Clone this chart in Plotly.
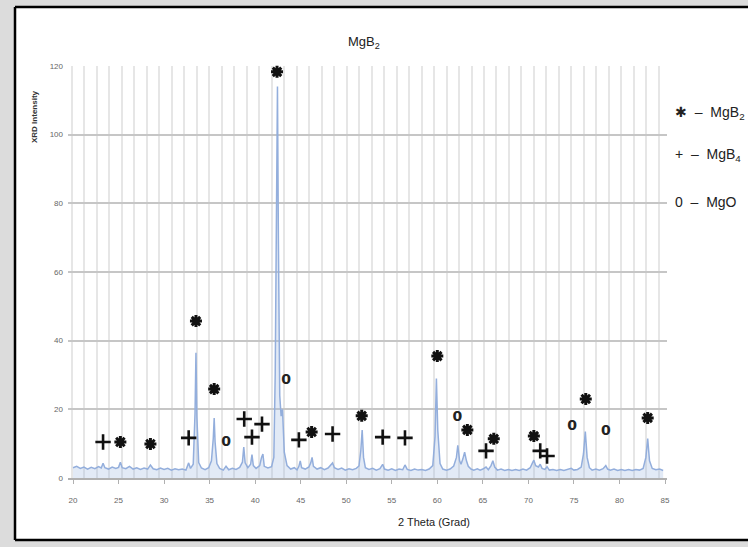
import plotly.graph_objects as go

# ---------------- data ----------------
two_theta = [
    20.0, 20.4, 20.8, 21.2, 21.6, 22.0, 22.4, 22.8, 23.1, 23.3,
    23.5, 23.9, 24.3, 24.7, 25.0, 25.2, 25.4, 25.8, 26.2, 26.6,
    27.0, 27.4, 27.8, 28.2, 28.5, 28.8, 29.2, 29.6, 30.0, 30.4,
    30.8, 31.2, 31.6, 32.0, 32.4, 32.7, 32.9, 33.2, 33.4, 33.5,
    33.6, 33.8, 34.1, 34.5, 34.9, 35.2, 35.4, 35.5, 35.6, 35.8,
    36.1, 36.5, 36.8, 37.1, 37.5, 37.9, 38.3, 38.6, 38.75, 38.9,
    39.2, 39.5, 39.65, 39.8, 40.1, 40.5, 40.7, 40.85, 41.0, 41.4,
    41.8, 42.05, 42.2, 42.35, 42.45, 42.55, 42.7, 42.85, 43.0, 43.2,
    43.5, 43.9, 44.3, 44.6, 44.8, 44.95, 45.1, 45.5, 45.9, 46.1, 46.25,
    46.4, 46.8, 47.2, 47.6, 48.0, 48.3, 48.5, 48.7, 49.1, 49.5,
    49.9, 50.3, 50.7, 51.1, 51.4, 51.6, 51.75, 51.9, 52.1, 52.5,
    52.9, 53.3, 53.7, 54.0, 54.2, 54.6, 55.0, 55.4, 55.8, 56.2,
    56.45, 56.7, 57.1, 57.5, 57.9, 58.3, 58.7, 59.1, 59.5, 59.75,
    59.9, 60.05, 60.3, 60.6, 61.0, 61.4, 61.8, 62.1, 62.25, 62.45,
    62.6, 62.8, 63.0, 63.2, 63.4, 63.7, 64.0, 64.4, 64.7, 65.0,
    65.35, 65.6, 65.9, 66.1, 66.3, 66.6, 67.0, 67.4, 67.8, 68.2,
    68.6, 69.0, 69.4, 69.8, 70.2, 70.45, 70.6, 70.8, 71.1, 71.3,
    71.5, 71.8, 72.05, 72.3, 72.7, 73.1, 73.5, 73.9, 74.3, 74.7,
    75.0, 75.4, 75.8, 76.05, 76.25, 76.45, 76.7, 77.0, 77.4, 77.8,
    78.2, 78.5, 78.7, 79.0, 79.4, 79.8, 80.2, 80.6, 81.0, 81.4,
    81.8, 82.2, 82.6, 82.9, 83.1, 83.3, 83.6, 84.0, 84.4, 84.8,
]
intensity = [
    3.0, 3.4, 2.8, 3.2, 2.6, 3.1, 2.7, 3.3, 2.9, 4.3,
    3.0, 2.6, 3.2, 2.8, 3.1, 4.6, 3.0, 2.7, 3.4, 2.6,
    3.0, 2.5, 2.9, 2.6, 3.8, 2.7, 2.4, 2.9, 2.5, 2.8,
    2.3, 2.7, 2.4, 2.6, 2.3, 4.4, 2.8, 4.0, 19.0, 36.5,
    18.0, 4.5, 2.9, 2.4, 3.0, 5.0, 11.5, 17.5, 10.5, 4.2,
    2.8, 2.3, 3.4, 2.4, 2.8, 2.5, 3.1, 4.6, 9.0, 4.4,
    3.0, 4.0, 6.8, 3.6, 2.8, 3.6, 6.0, 7.0, 3.4, 2.9,
    3.3, 6.0, 30.0, 105.0, 114.0, 70.0, 24.0, 18.0, 20.0, 7.5,
    3.6, 2.6, 3.0, 2.4, 3.4, 5.0, 3.0, 2.6, 3.2, 4.4, 6.0,
    3.4, 2.6, 3.0, 2.4, 2.9, 3.7, 4.4, 3.0, 2.5, 2.9,
    2.3, 2.7, 2.4, 2.8, 3.5, 8.0, 14.0, 6.0, 3.0, 2.5,
    2.8, 2.3, 2.7, 4.0, 2.6, 2.3, 2.7, 2.2, 2.6, 2.4,
    3.8, 2.5, 2.2, 2.6, 2.3, 2.5, 2.2, 2.6, 3.6, 12.0,
    29.0, 14.0, 4.2, 2.6, 2.3, 2.6, 3.5, 6.0, 9.5, 5.0,
    4.0, 5.5, 7.5, 5.0, 3.4, 2.6, 2.3, 2.7, 2.3, 2.6,
    3.2, 2.4, 3.6, 5.0, 3.2, 2.3, 2.6, 2.2, 2.5, 2.2,
    2.5, 2.2, 2.6, 2.3, 3.0, 4.4, 5.2, 3.6, 3.2, 4.0,
    2.8, 2.5, 3.3, 2.3, 2.5, 2.2, 2.5, 2.2, 2.4, 2.8,
    2.3, 2.5, 3.2, 7.0, 13.5, 6.0, 3.0, 2.3, 2.6, 2.3,
    2.7, 3.6, 2.6, 2.3, 2.6, 2.2, 2.5, 2.2, 2.5, 2.2,
    2.5, 2.3, 2.8, 6.0, 11.5, 5.0, 2.8, 2.4, 2.6, 2.2,
]

mgb2_x = [25.2, 28.5, 33.5, 35.5, 42.4, 46.2, 51.7, 60.0, 63.3, 66.2, 70.6, 76.3, 83.1]
mgb2_y = [10.5, 9.9, 45.7, 25.9, 118.3, 13.4, 18.1, 35.5, 14.0, 11.4, 12.2, 23.0, 17.5]
mgb4_x = [23.3, 32.7, 38.8, 39.65, 40.75, 44.8, 48.5, 54.0, 56.45, 65.35, 71.3, 72.05]
mgb4_y = [10.5, 11.7, 17.2, 11.9, 15.7, 11.1, 12.8, 11.9, 11.7, 7.9, 7.9, 6.4]
mgo_x = [36.8, 43.4, 62.2, 74.8, 78.5]
mgo_y = [10.2, 28.5, 17.5, 14.9, 13.4]

x_ticks = [20, 25, 30, 35, 40, 45, 50, 55, 60, 65, 70, 75, 80, 85]
y_ticks = [0, 20, 40, 60, 80, 100, 120]

legend_labels = ["✱  –  MgB<sub>2</sub>", "+  –  MgB<sub>4</sub>", "0  –  MgO"]

# ---------------- figure ----------------
W, H = 748, 547
L, R, T, B = 68, 81, 66, 69
pw, ph = W - L - R, H - T - B


def px(xp):
    return (xp - L) / pw


def py(yp):
    return (H - B - yp) / ph


FONT = "Liberation Sans Narrow, Arial Narrow, Liberation Sans, Arial, sans-serif"

fig = go.Figure()

fig.add_trace(go.Scatter(
    x=two_theta, y=intensity, mode="lines",
    line=dict(color="#93aedc", width=1.5),
    fill="tozeroy", fillcolor="rgba(160,185,225,0.30)",
    hoverinfo="skip", showlegend=False,
))

fig.add_trace(go.Scatter(
    x=mgb2_x, y=mgb2_y, mode="markers",
    marker=dict(symbol="asterisk-open", size=10, color="#111111",
                line=dict(width=3, color="#111111")),
    cliponaxis=False, showlegend=False, hoverinfo="skip",
))
fig.add_trace(go.Scatter(
    x=mgb4_x, y=mgb4_y, mode="markers",
    marker=dict(symbol="cross-thin-open", size=11, color="#111111",
                line=dict(width=2.6, color="#111111")),
    cliponaxis=False, showlegend=False, hoverinfo="skip",
))
fig.add_trace(go.Scatter(
    x=mgo_x, y=mgo_y, mode="text", text=["<b>0</b>"] * len(mgo_x),
    textfont=dict(family="DejaVu Sans", size=14, color="#222222"),
    cliponaxis=False, showlegend=False, hoverinfo="skip",
))

# white framed panel (left, top and bottom borders; right edge runs off the image)
fig.add_shape(type="rect", xref="paper", yref="paper",
              x0=px(15), x1=px(748), y0=py(540), y1=py(7),
              fillcolor="white", line=dict(width=0), layer="below")
for (xa, ya, xb, yb) in [(15, 7, 15, 540), (15, 7, 748, 7), (15, 540, 748, 540)]:
    fig.add_shape(type="line", xref="paper", yref="paper",
                  x0=px(xa), y0=py(ya), x1=px(xb), y1=py(yb),
                  line=dict(color="black", width=2.5), layer="below")

fig.update_xaxes(
    range=[19.45, 85.22], tickmode="array", tickvals=x_ticks,
    ticktext=[str(v) for v in x_ticks],
    showgrid=False, zeroline=False,
    showline=True, linecolor="#b0b0b0", linewidth=1.5,
    ticks="outside", ticklen=4, tickcolor="#b0b0b0",
    ticklabelstandoff=10,
    tickfont=dict(family=FONT, size=8, color="#666666"),
    minor=dict(dtick=1.372, tick0=19.85, showgrid=True,
               gridcolor="#e6e6e6", gridwidth=1.6, ticks=""),
)
fig.update_yaxes(
    range=[0, 120], tickmode="array", tickvals=y_ticks,
    ticktext=[str(v) for v in y_ticks],
    showgrid=True, gridcolor="#c6c6c6", gridwidth=1.8,
    zeroline=False, showline=False, ticks="",
    ticklabelstandoff=4,
    tickfont=dict(family=FONT, size=8, color="#666666"),
)

annotations = [
    dict(text="MgB<sub>2</sub>", x=px(364), y=py(42), xref="paper", yref="paper",
         showarrow=False, font=dict(family=FONT, size=13, color="#222222"),
         xanchor="center", yanchor="middle"),
    dict(text="<b>XRD Intensity</b>", x=px(35), y=py(117), xref="paper", yref="paper",
         showarrow=False, textangle=-90, font=dict(family=FONT, size=8, color="#333333"),
         xanchor="center", yanchor="middle"),
    dict(text="2 Theta (Grad)", x=px(434), y=py(522), xref="paper", yref="paper",
         showarrow=False, font=dict(family=FONT, size=11, color="#222222"),
         xanchor="center", yanchor="middle"),
]
for lab, yy in zip(legend_labels, [113, 155, 202]):
    annotations.append(dict(text=lab, x=px(673), y=py(yy), xref="paper", yref="paper",
                            showarrow=False, font=dict(family=FONT, size=14, color="#222222"),
                            xanchor="left", yanchor="middle"))

fig.update_layout(
    width=W, height=H,
    margin=dict(l=L, r=R, t=T, b=B, pad=0),
    paper_bgcolor="#dcdcdc", plot_bgcolor="white",
    annotations=annotations,
    showlegend=False,
)

fig.write_html("out.html")
